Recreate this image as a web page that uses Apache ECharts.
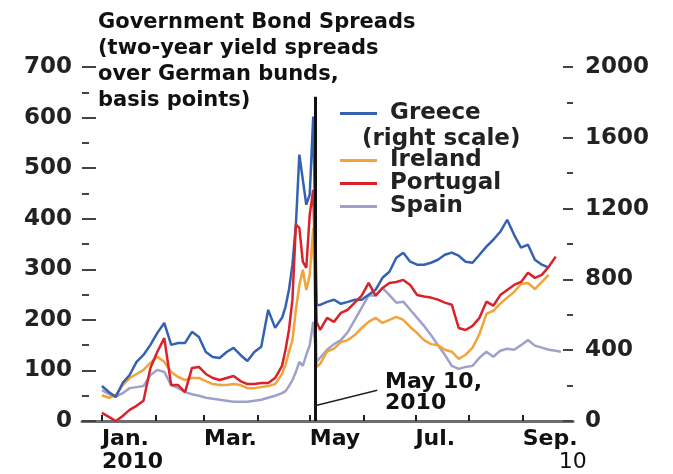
<!DOCTYPE html>
<html>
<head>
<meta charset="utf-8">
<script src="https://cdn.jsdelivr.net/npm/echarts@6/dist/echarts.min.js"></script>
<style>
  html, body { margin: 0; padding: 0; background: #fff; }
  #chart { width: 673px; height: 474px; }
</style>
</head>
<body>
<div id="chart"></div>
<script>
// days since Jan 1, 2010
const days = [0,4,8,12,16,20,24,28,32,36,40,44,48,52,56,60,64,68,72,76,80,84,88,92,96,100,104,
  106,108,110,112,114,116,118,120,122,124,126,
  130,134,138,142,146,150,154,158,162,166,170,174,178,182,186,190,194,198,202,206,210,214,218,222,226,230,234,238,242,246,250,254,258,262,265]

// Greece on the right scale
const greece = [198,164,136,215,260,334,373,430,498,554,430,441,441,504,475,390,362,356,390,413,373,339,390,419,628,526,583,
  645,741,883,1109,1505,1364,1222,1279,1720,656,656,
  673,685,662,673,685,685,713,741,809,843,922,951,900,883,883,894,911,939,951,934,900,894,939,985,1024,1069,1137,1052,979,996,911,883,866,null,null]
const ireland = [51,46,51,71,85,93,101,115,127,117,97,87,81,85,85,79,73,71,71,73,71,65,65,67,69,73,93,
  111,137,160,220,269,299,259,289,382,107,113,
  137,143,156,160,170,184,196,204,194,200,206,200,186,174,160,152,150,141,137,123,131,145,172,212,218,232,244,255,271,273,261,275,289,null,null]
const portugal = [16,8,0,10,22,30,40,105,137,164,71,71,57,105,107,93,85,81,85,89,79,73,73,75,75,85,109,
  141,180,240,388,382,315,303,408,457,196,180,
  204,196,214,220,234,248,273,248,263,273,275,279,269,249,246,244,240,234,230,184,180,188,204,236,228,249,259,269,275,293,283,289,305,325,null]
const spain = [61,53,48,55,65,67,69,91,101,97,71,65,57,53,50,46,44,42,40,38,38,38,40,42,46,50,55,
  59,69,81,97,117,109,131,150,196,117,125,
  141,152,160,176,200,224,248,248,263,249,234,236,220,204,188,170,150,131,109,103,107,109,125,137,127,139,143,141,150,160,149,145,141,139,137]

const monthTicks = [0,31,59,90,120,151,181,212,243]
const labelDays = [0,59,120,181,243]
const monthLabels = ['{a|Jan.}\n{a|2010}', '{a|Mar.}', '{a|May}', '{a|Jul.}', '{a|Sep.}\n{b|10}']

const xMin = -11.5
const xMax = 272
const mayTen = 123

const FONT = 'DejaVu Sans'
const chart = echarts.init(document.getElementById('chart'))

function lineSeries(name, arr, color, axis) {
  return {
    name: name,
    type: 'line',
    yAxisIndex: axis,
    data: days.map((d, i) => [d, arr[i]]),
    symbol: 'none',
    clip: false,
    lineStyle: { width: 2.5, color: color },
    itemStyle: { color: color },
    silent: true
  }
}

const portugalSeries = lineSeries('Portugal', portugal, '#d8232a', 0)
portugalSeries.markLine = {
  symbol: 'none',
  silent: true,
  label: { show: false },
  data: [
    [{ coord: [mayTen, 0], lineStyle: { color: '#111', width: 3, type: 'solid' } }, { coord: [mayTen, 641] }],
    [{ coord: [mayTen, 30], lineStyle: { color: '#222', width: 1.5, type: 'solid' } }, { coord: [159, 61] }]
  ]
}

const option = {
  animation: false,
  title: {
    text: 'Government Bond Spreads\n(two-year yield spreads\nover German bunds,\nbasis points)',
    left: 98,
    top: 10,
    padding: 0,
    textStyle: { fontFamily: FONT, fontSize: 21, fontWeight: 'bold', lineHeight: 26, color: '#111' }
  },
  legend: [
    {
      data: ['Greece'],
      left: 340, top: 102, padding: 0,
      icon: 'rect', itemWidth: 37, itemHeight: 3,
      textStyle: { fontFamily: FONT, fontSize: 23, fontWeight: 'bold', lineHeight: 23, color: '#222', padding: [0, 0, 0, 8] }
    },
    {
      data: ['Ireland', 'Portugal', 'Spain'],
      orient: 'vertical',
      left: 340, top: 149, padding: 0, itemGap: 0,
      icon: 'rect', itemWidth: 37, itemHeight: 3,
      textStyle: { fontFamily: FONT, fontSize: 23, fontWeight: 'bold', lineHeight: 23, color: '#222', padding: [0, 0, 0, 8] }
    }
  ],
  graphic: [
    {
      type: 'text', left: 362, top: 128,
      style: { text: '(right scale)', font: 'bold 23px "DejaVu Sans"', fill: '#222' }
    },
    {
      type: 'text', left: 385, top: 371,
      style: { text: 'May 10,\n2010', font: 'bold 22px "DejaVu Sans"', fill: '#111', align: 'center', lineHeight: 21 }
    }
  ],
  grid: { left: 82, right: 100, top: 67, bottom: 53 },
  xAxis: {
    type: 'value',
    min: xMin,
    max: xMax,
    axisLine: { show: true, onZero: false, lineStyle: { color: '#6e6e6e', width: 3 } },
    axisTick: { show: true, inside: true, length: 6, customValues: monthTicks, lineStyle: { color: '#222', width: 2 } },
    axisLabel: {
      customValues: labelDays,
      align: 'left',
      margin: 7,
      formatter: v => monthLabels[labelDays.indexOf(v)],
      rich: {
        a: { fontFamily: FONT, fontSize: 22, fontWeight: 'bold', color: '#111', lineHeight: 23 },
        b: { fontFamily: FONT, fontSize: 22, color: '#111', lineHeight: 23, padding: [0, 0, 0, 36] }
      }
    },
    splitLine: { show: false }
  },
  yAxis: [
    {
      type: 'value', min: 0, max: 700, interval: 100, position: 'left',
      axisLine: { show: false, onZero: false },
      axisTick: { show: true, inside: true, length: 14, lineStyle: { color: '#444', width: 2 } },
      minorTick: { show: true, splitNumber: 2, length: 7, lineStyle: { color: '#444', width: 2 } },
      axisLabel: { margin: 10, fontFamily: FONT, fontSize: 23, fontWeight: 'bold', color: '#222' },
      splitLine: { show: false }
    },
    {
      type: 'value', min: 0, max: 2000, interval: 400, position: 'right',
      axisLine: { show: false, onZero: false },
      axisTick: { show: true, inside: true, length: 10, lineStyle: { color: '#444', width: 2 } },
      minorTick: { show: true, splitNumber: 2, length: 6, lineStyle: { color: '#444', width: 2 } },
      axisLabel: { margin: 12, fontFamily: FONT, fontSize: 23, fontWeight: 'bold', color: '#222', formatter: v => String(v) },
      splitLine: { show: false }
    }
  ],
  series: [
    lineSeries('Spain', spain, '#9ea2c9', 0),
    lineSeries('Ireland', ireland, '#f2a43a', 0),
    lineSeries('Greece', greece, '#3462b2', 1),
    portugalSeries
  ]
}

chart.setOption(option)
</script>
</body>
</html>
